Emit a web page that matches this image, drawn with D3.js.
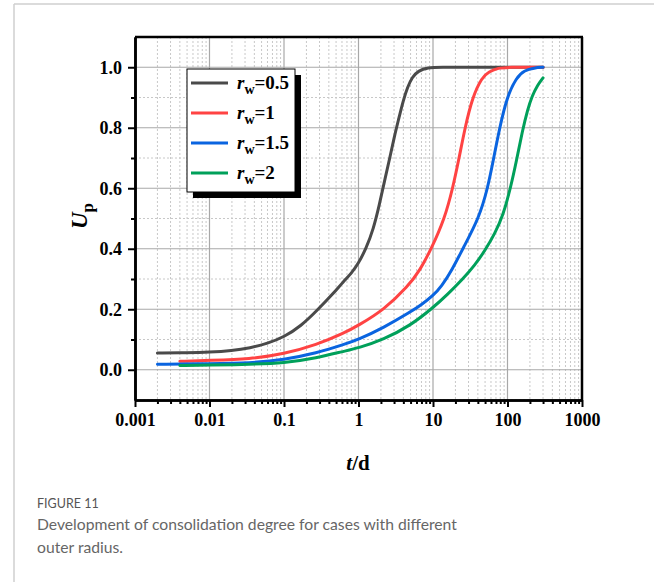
<!DOCTYPE html>
<html>
<head>
<meta charset="utf-8">
<script src="https://cdn.jsdelivr.net/npm/d3@7"></script>
<style>
  body { margin: 0; background: #fff; }
  svg text { font-family: "Liberation Serif", "Times New Roman", serif; }
</style>
</head>
<body>
<svg id="chart" width="654" height="582"></svg>
<script>
// series data: t (days) and degree of consolidation Up
var tBlack = [0.002,0.005,0.01,0.02,0.035,0.06,0.1,0.17,0.275,0.45,0.63,0.8,1,1.26,1.585,1.905,2.24,2.63,3.02,3.47,3.98,4.57,5.25,6.31,8.51,12.6,30,100,300];
var uBlack = [0.055,0.056,0.058,0.063,0.072,0.087,0.108,0.145,0.195,0.25,0.292,0.318,0.352,0.40,0.465,0.545,0.625,0.70,0.77,0.83,0.89,0.935,0.967,0.988,0.999,1.0,1.0,1.0,1.0];

var tRed = [0.004,0.01,0.035,0.1,0.275,0.63,1,2.17,4.7,6.6,9.51,14.35,18.4,22.4,26.9,33.7,45.4,56.2,75.9,100,300];
var uRed = [0.028,0.031,0.035,0.052,0.083,0.12,0.147,0.197,0.278,0.327,0.40,0.50,0.60,0.70,0.80,0.90,0.967,0.985,0.998,1.0,1.0];

var tBlue = [0.002,0.01,0.035,0.1,0.275,0.63,1,2.17,4.9,7,10,12.97,18,25.1,41.2,54.3,65.3,78.5,97.7,131.8,169.8,229,300];
var uBlue = [0.018,0.02,0.022,0.033,0.055,0.083,0.10,0.139,0.19,0.215,0.245,0.275,0.33,0.40,0.50,0.60,0.70,0.80,0.90,0.967,0.99,0.998,1.0];

var tGreen = [0.004,0.01,0.035,0.1,0.275,0.63,1,2.17,4.9,10,15.85,25.1,36.3,50.1,67.6,87.1,109.6,131.8,158.5,186.2,213.8,251.2,300];
var uGreen = [0.014,0.015,0.018,0.022,0.039,0.061,0.072,0.10,0.145,0.205,0.25,0.30,0.345,0.395,0.45,0.51,0.60,0.69,0.79,0.86,0.905,0.94,0.965];

var legendNames = ['0.5','1','1.5','2'];
var colors = ['#4a4a4a','#ff4343','#0a64e0','#00a05a'];
var xTicks = [0.001,0.01,0.1,1,10,100,1000];
var xTickLabels = ['0.001','0.01','0.1','1','10','100','1000'];
var yTicks = [0,0.2,0.4,0.6,0.8,1.0];

var series = [
  {t: tBlack, u: uBlack},
  {t: tRed, u: uRed},
  {t: tBlue, u: uBlue},
  {t: tGreen, u: uGreen}
];

var svg = d3.select('#chart');

// outer figure frame
svg.append('line').attr('x1',14).attr('y1',4).attr('x2',654).attr('y2',4)
   .style('stroke','#cfcfcf').style('stroke-width',1.5);
svg.append('line').attr('x1',14).attr('y1',4).attr('x2',14).attr('y2',582)
   .style('stroke','#cfcfcf').style('stroke-width',1.5);

var pLeft = 135, pRight = 582, pTop = 37, pBottom = 400;

var x = d3.scaleLog().domain([0.001,1000]).range([pLeft,pRight]);
var y = d3.scaleLinear().domain([-0.1,1.1]).range([pBottom,pTop]);

// minor grid
var minorX = [];
for (var e = -3; e < 3; e++) {
  for (var k = 2; k < 10; k++) minorX.push(k * Math.pow(10, e));
}
var minorY = [-0.1,0.1,0.3,0.5,0.7,0.9,1.1];

var grid = svg.append('g');
grid.selectAll('.mx').data(minorX).enter().append('line')
    .attr('x1',function(d){ return x(d); }).attr('x2',function(d){ return x(d); })
    .attr('y1',pTop).attr('y2',pBottom)
    .style('stroke','#c8c8c8').style('stroke-width',1).style('stroke-dasharray','2,2');
grid.selectAll('.my').data(minorY).enter().append('line')
    .attr('x1',pLeft).attr('x2',pRight)
    .attr('y1',function(d){ return y(d); }).attr('y2',function(d){ return y(d); })
    .style('stroke','#c8c8c8').style('stroke-width',1).style('stroke-dasharray','2,2');
grid.selectAll('.Mx').data(xTicks).enter().append('line')
    .attr('x1',function(d){ return x(d); }).attr('x2',function(d){ return x(d); })
    .attr('y1',pTop).attr('y2',pBottom)
    .style('stroke','#a8a8a8').style('stroke-width',1.2);
grid.selectAll('.My').data(yTicks).enter().append('line')
    .attr('x1',pLeft).attr('x2',pRight)
    .attr('y1',function(d){ return y(d); }).attr('y2',function(d){ return y(d); })
    .style('stroke','#a8a8a8').style('stroke-width',1.2);

// curves
var line = d3.line()
    .x(function(d){ return x(d[0]); })
    .y(function(d){ return y(d[1]); })
    .curve(d3.curveBasis);

series.forEach(function(s, i){
  var pts = s.t.map(function(t, j){ return [t, s.u[j]]; });
  svg.append('path').datum(pts)
     .attr('d', line)
     .style('fill','none')
     .style('stroke', colors[i])
     .style('stroke-width',3)
     .style('stroke-linecap','round');
});

// frame top / right
svg.append('line').attr('x1',pLeft).attr('x2',pRight+1).attr('y1',pTop).attr('y2',pTop)
   .style('stroke','#000').style('stroke-width',2.5);
svg.append('line').attr('x1',pRight).attr('x2',pRight).attr('y1',pTop).attr('y2',pBottom)
   .style('stroke','#000').style('stroke-width',2.5);

// axes
var xAxis = svg.append('g').attr('transform','translate(0,'+pBottom+')')
    .call(d3.axisBottom(x).tickValues(xTicks).tickFormat(function(d,i){ return xTickLabels[i]; }).tickSize(7).tickSizeOuter(0));
var xMinor = svg.append('g').attr('transform','translate(0,'+pBottom+')')
    .call(d3.axisBottom(x).tickValues(minorX).tickFormat('').tickSize(4).tickSizeOuter(0));
var yAxis = svg.append('g').attr('transform','translate('+pLeft+',0)')
    .call(d3.axisLeft(y).tickValues(yTicks).tickFormat(d3.format('.1f')).tickSize(7).tickSizeOuter(0));
var yMinor = svg.append('g').attr('transform','translate('+pLeft+',0)')
    .call(d3.axisLeft(y).tickValues(minorY.slice(1,6)).tickFormat('').tickSize(4).tickSizeOuter(0));

[xAxis,xMinor,yAxis,yMinor].forEach(function(a){
  a.select('.domain').style('stroke','#000').style('stroke-width',2.5);
  a.selectAll('.tick line').style('stroke','#000').style('stroke-width',2);
});
xAxis.selectAll('text').attr('y',13)
     .style('font-family','"Liberation Serif", serif').style('font-weight','bold')
     .style('font-size','18px').style('fill','#000');
yAxis.selectAll('text').attr('x',-13)
     .style('font-family','"Liberation Serif", serif').style('font-weight','bold')
     .style('font-size','18px').style('fill','#000');

// axis titles
var xt = svg.append('text').attr('x',358).attr('y',470).attr('text-anchor','middle')
    .style('font-size','21px').style('font-weight','bold');
xt.append('tspan').style('font-style','italic').text('t');
xt.append('tspan').text('/d');

var yt = svg.append('text').attr('transform','translate(87,216) rotate(-90)')
    .attr('text-anchor','middle').style('font-size','23px').style('font-weight','bold');
yt.append('tspan').style('font-style','italic').text('U');
yt.append('tspan').attr('dy',6).style('font-size','17px').text('p');

// legend
var lg = svg.append('g').attr('transform','translate(187,69)');
lg.append('rect').attr('x',6).attr('y',6).attr('width',108).attr('height',123).style('fill','#000');
lg.append('rect').attr('x',0).attr('y',0).attr('width',108).attr('height',123)
  .style('fill','#fff').style('stroke','#000').style('stroke-width',1);
legendNames.forEach(function(n, i){
  var ly = 14 + i * 30;
  lg.append('line').attr('x1',4).attr('x2',41).attr('y1',ly).attr('y2',ly)
    .style('stroke',colors[i]).style('stroke-width',3);
  var t = lg.append('text').attr('x',50).attr('y',ly+6)
    .style('font-size','19px').style('font-weight','bold');
  t.append('tspan').style('font-style','italic').text('r');
  t.append('tspan').attr('dy',5).style('font-size','14px').text('w');
  t.append('tspan').attr('dy',-5).text('=' + n);
});

// caption
svg.append('text').attr('x',37).attr('y',508)
   .style('font-family','Lato, "Open Sans", sans-serif').style('font-size','12.5px')
   .style('fill','#555').text('FIGURE 11');
svg.append('text').attr('x',37).attr('y',530)
   .style('font-family','Lato, "Open Sans", sans-serif').style('font-size','15.7px')
   .style('fill','#666').text('Development of consolidation degree for cases with different');
svg.append('text').attr('x',37).attr('y',553)
   .style('font-family','Lato, "Open Sans", sans-serif').style('font-size','15.7px')
   .style('fill','#666').text('outer radius.');
</script>
</body>
</html>
